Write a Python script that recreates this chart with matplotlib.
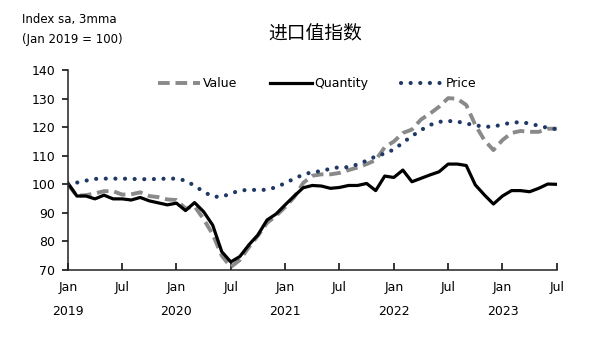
import matplotlib
matplotlib.use("Agg")
import matplotlib.pyplot as plt

# Import indices, 3mma, Jan 2019 = 100 (monthly, Jan 2019 .. Jul 2023)
value = [100, 96, 96.2, 96.8, 97.6, 97.6, 96.4, 96.5, 97.2, 95.9, 95.5, 94.7,
         94.5, 91.5, 92.3, 87.8, 82.5, 75.0, 71.0, 73.5, 78, 82, 86.5, 89,
         92, 95.5, 100.5, 103, 103.5, 103.5, 104, 105, 105.9, 107.1, 108.5, 113,
         115, 118, 119.2, 122.7, 124.8, 127.2, 130.2, 130, 127.8, 120.8, 115.5, 112,
         115.5, 118, 118.7, 118.4, 118.4, 119.5, 119.5]
quantity = [100.5, 95.9, 95.9, 94.9, 96.2, 94.9, 94.9, 94.5, 95.4, 94.2, 93.5, 92.8,
            93.4, 90.8, 93.6, 90.4, 85.7, 76.4, 72.8, 74.7, 78.8, 82.3, 87.5, 89.6,
            92.8, 95.9, 98.8, 99.6, 99.4, 98.6, 98.9, 99.6, 99.6, 100.3, 97.8, 102.9,
            102.4, 105, 100.9, 102.1, 103.3, 104.4, 107.1, 107.1, 106.6, 99.8, 96.3, 93.1,
            95.9, 97.8, 97.8, 97.4, 98.6, 100.1, 100]
price = [100, 100.6, 101.3, 101.9, 102, 102, 102, 101.9, 101.8, 101.8, 101.9, 102,
         102, 101.3, 99.5, 97.4, 95.7, 95.6, 96.8, 97.8, 98.1, 98, 98.1, 99,
         100.4, 102, 103.4, 104.3, 104.6, 105.5, 106, 106, 107, 108.3, 109.8, 110.8,
         112.2, 114.6, 116.9, 119, 120.8, 121.9, 122.2, 122, 121.3, 120.7, 120.2, 120.2,
         121, 121.6, 121.8, 121.3, 120.5, 119.8, 119.3]
tick_labels = ["Jan\n2019", "Jul", "Jan\n2020", "Jul", "Jan\n2021", "Jul",
               "Jan\n2022", "Jul", "Jan\n2023", "Jul"]

months = list(range(len(value)))

fig = plt.figure(figsize=(6, 3.51), dpi=100)
ax = fig.add_axes([0.113, 0.231, 0.815, 0.569])

ax.plot(months, value, color="#8a8a8a", lw=2.8, ls=(0, (3.0, 1.5)), label="Value")
ax.plot(months, quantity, color="black", lw=2.3, label="Quantity")
ax.plot(months, price, color="#1f3864", lw=3.0, ls=(0, (0.01, 2.3)),
        dash_capstyle="round", label="Price")

ax.set_xlim(0, 54)
ax.set_ylim(70, 140)
ax.set_yticks(range(70, 141, 10))
ax.set_xticks(range(0, 55, 6))
ax.set_xticklabels(tick_labels, linespacing=2.1)

for s in ["top", "right"]:
    ax.spines[s].set_visible(False)
for s in ["left", "bottom"]:
    ax.spines[s].set_linewidth(1.1)
    ax.spines[s].set_color("#222222")

ax.tick_params(axis="x", direction="in", length=5, width=1.1, pad=8, labelsize=9)
ax.tick_params(axis="y", direction="out", length=4, width=1.1, pad=5, labelsize=9)

ax.legend(loc="upper center", bbox_to_anchor=(0.51, 1.02), ncol=3, frameon=False,
          fontsize=9, handlelength=3.4, handletextpad=0.2, columnspacing=2.6)

fig.text(0.037, 0.945, "Index sa, 3mma", fontsize=8.5, va="center")
fig.text(0.037, 0.887, "(Jan 2019 = 100)", fontsize=8.5, va="center")
fig.text(0.525, 0.905, "进口值指数", fontsize=13.5, ha="center", va="center",
         family=["Noto Sans CJK SC", "DejaVu Sans"])

fig.savefig("out.png", dpi=100)
